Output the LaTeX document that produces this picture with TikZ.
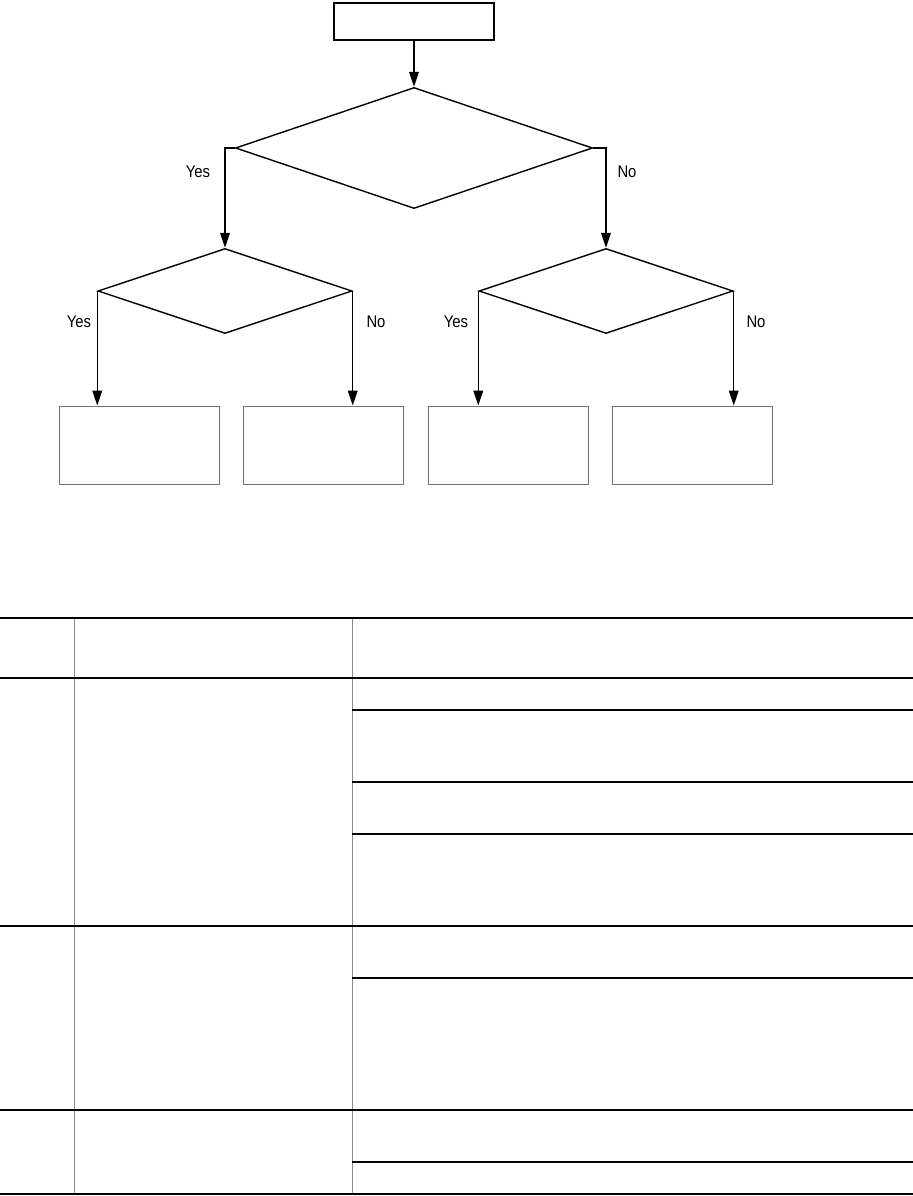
\documentclass[tikz,border=0pt]{standalone}
\usepackage{fontspec}
\newfontfamily\yesno[FakeStretch=0.88]{Liberation Sans}
\usetikzlibrary{arrows.meta,positioning,shapes.geometric}

\begin{document}
\begin{tikzpicture}[x=0.025cm, y=-0.025cm,
  startbox/.style={draw, line width=1.2pt, minimum width=4cm, minimum height=0.925cm, inner sep=0},
  decision/.style={draw, diamond, line width=1pt, inner sep=0},
  result/.style={draw=black!55, line width=0.65pt, minimum width=4cm, minimum height=1.95cm, inner sep=0},
  arrow/.style={-{Triangle[length=3.7mm, width=2.4mm]}, line width=1pt},
  lab/.style={font=\yesno\fontsize{12}{14}\selectfont, inner sep=0},
  tabrule/.style={line width=#1}
]
\useasboundingbox (0,0) rectangle (913,1196);

\node[startbox] (start) at (414,21.5) {};
\node[decision, minimum width=8.925cm, minimum height=3.025cm] (d1) at (414,148) {};
\node[decision, minimum width=6.35cm, minimum height=2.125cm] (d2) at (225,291) {};
\node[decision, minimum width=6.35cm, minimum height=2.125cm] (d3) at (606,291) {};
\foreach \n/\x in {r1/139, r2/323.5, r3/508, r4/692.5}
  \node[result] (\n) at (\x,445) {};

\draw[arrow] (start.south) -- (d1.north);
\draw[arrow] (d1.west) -| (d2.north);
\draw[arrow] (d1.east) -| (d3.north);
\draw[arrow] (d2.west) -- (d2.west |- r1.north);
\draw[arrow] (d2.east) -- (d2.east |- r2.north);
\draw[arrow] (d3.west) -- (d3.west |- r3.north);
\draw[arrow] (d3.east) -- (d3.east |- r4.north);

\foreach \n/\x/\y/\t in {y1/198/172/Yes, n1/627/172/No, y2/79/322/Yes, n2/376/322/No, y3/456/322/Yes, n3/756/322/No}
  \node[lab] (\n) at (\x,\y) {\t};

% table
\foreach \x in {74,352}
  \draw[black!45, line width=0.6pt] (\x,618) -- (\x,1194);
\foreach \y/\w in {618/2.1pt, 678/1.4pt, 926/0.8pt, 1110/0.8pt, 1194/2.1pt}
  \draw[tabrule=\w] (0,\y) -- (913,\y);
\foreach \y in {710,782,834,978,1162}
  \draw[tabrule=0.8pt] (352,\y) -- (913,\y);
\end{tikzpicture}
\end{document}
